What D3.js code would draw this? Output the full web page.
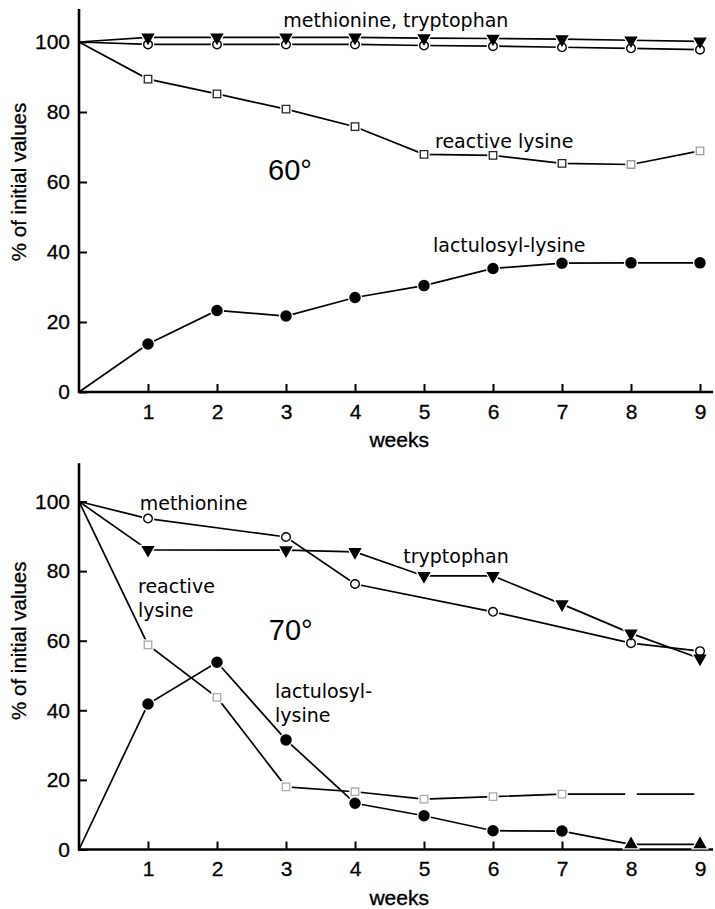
<!DOCTYPE html>
<html>
<head>
<meta charset="utf-8">
<script src="https://cdn.jsdelivr.net/npm/d3@7"></script>
<style>
  body { margin: 0; background: #fff; }
  text { fill: #000; }
</style>
</head>
<body>
<div id="chart"></div>
<script>
// weeks on the x axis, tick labels
var weeks = [0, 1, 2, 3, 4, 5, 6, 7, 8, 9];
var xTicks = [1, 2, 3, 4, 5, 6, 7, 8, 9];
var yTicks = [0, 20, 40, 60, 80, 100];

// 60 degrees
var topTrp = [100, 101.3, 101.3, 101.3, 101.3, 101.1, 101.0, 100.8, 100.5, 100.2];
var topMet = [100, 99.3, 99.3, 99.3, 99.3, 99.0, 98.8, 98.5, 98.2, 97.8];
var topLys = [100, 89.4, 85.2, 80.8, 75.8, 67.9, 67.6, 65.3, 65.0, 68.9];
var topLact = [0, 13.7, 23.3, 21.7, 27.0, 30.4, 35.3, 36.8, 36.9, 36.9];

// 70 degrees
var botMetWeeks = [0, 1, 3, 4, 6, 8, 9];
var botMet = [100, 95.1, 89.8, 76.3, 68.3, 59.3, 57.0];
var botTrpWeeks = [0, 1, 3, 4, 5, 6, 7, 8, 9];
var botTrp = [100, 86.1, 86.0, 85.5, 78.6, 78.6, 70.5, 62.1, 54.9];
var botLys = [100, 58.8, 43.7, 18.0, 16.6, 14.5, 15.2, 15.9, 15.9, 15.9];
var botLact = [0, 41.8, 53.8, 31.5, 13.3, 9.7, 5.4, 5.3, 1.5, 1.5];
var botLactShape = ['none', 'dot', 'dot', 'dot', 'dot', 'dot', 'dot', 'dot', 'triUp', 'triUp'];

var W = 715, H = 909;
var svg = d3.select('#chart').append('svg')
  .attr('width', W).attr('height', H)
  .style('font-family', 'Liberation Sans, Arial, sans-serif');

var x = d3.scaleLinear().domain([0, 9]).range([79, 700]);

function zip(ws, vs, shapes, def) {
  return ws.map(function(w, i) {
    return {w: w, v: vs[i], shape: shapes ? shapes[i] : (w === 0 ? 'none' : def)};
  });
}

function symbolPath(shape) {
  if (shape === 'dot') return d3.symbol(d3.symbolCircle, 80)();
  if (shape === 'ring') return d3.symbol(d3.symbolCircle, 58)();
  if (shape === 'triDown' || shape === 'triUp') return d3.symbol(d3.symbolTriangle, 52)();
  if (shape === 'square') return d3.symbol(d3.symbolSquare, 56)();
  return null;
}

function panel(cfg) {
  var y = d3.scaleLinear().domain([0, 100]).range([cfg.y0, cfg.y100]);
  var g = svg.append('g');

  // axes
  var yAxis = d3.axisLeft(y).tickValues(yTicks).tickSizeInner(-8).tickSizeOuter(0).tickPadding(9);
  var xAxis = d3.axisBottom(x).tickValues(xTicks).tickSizeInner(-8).tickSizeOuter(0).tickPadding(12);

  var gy = g.append('g').attr('transform', 'translate(' + x(0) + ',0)').call(yAxis);
  var gx = g.append('g').attr('transform', 'translate(0,' + y(0) + ')').call(xAxis);
  [gy, gx].forEach(function(a) {
    a.select('.domain').remove();
    a.selectAll('line').attr('stroke', '#000').attr('stroke-width', 2);
    a.selectAll('text').attr('font-size', 21).attr('fill', '#000')
      .attr('stroke', '#000').attr('stroke-width', 0.3);
  });
  g.append('line')
    .attr('x1', x(0)).attr('x2', x(0))
    .attr('y1', y(0) + 1).attr('y2', y(cfg.yTop))
    .attr('stroke', '#000').attr('stroke-width', 2.6);
  g.append('line')
    .attr('x1', x(0) - 1).attr('x2', x(9.19))
    .attr('y1', y(0)).attr('y2', y(0))
    .attr('stroke', '#000').attr('stroke-width', 2.6);

  g.append('text')
    .attr('transform', 'translate(18,' + y(60) + ') rotate(-90)')
    .attr('text-anchor', 'middle').attr('dominant-baseline', 'central')
    .attr('font-size', 20.5)
    .attr('stroke', '#000').attr('stroke-width', 0.3)
    .text('% of initial values');
  g.append('text')
    .attr('x', x(4.64)).attr('y', y(0) + 55)
    .attr('text-anchor', 'middle')
    .attr('font-size', 21)
    .attr('stroke', '#000').attr('stroke-width', 0.4)
    .text('weeks');

  var line = d3.line().x(function(d) { return x(d.w); }).y(function(d) { return y(d.v); });

  cfg.series.forEach(function(s) {
    g.append('path')
      .datum(s.pts)
      .attr('d', line)
      .attr('fill', 'none')
      .attr('stroke', '#000')
      .attr('stroke-width', 1.7);
  });

  function sqStroke(s, d) {
    if (s.fadeFrom !== undefined && d.w >= s.fadeFrom) return s.fadeColor;
    return s.sqColor;
  }

  // white halo behind markers, then markers
  cfg.series.forEach(function(s) {
    var pts = s.pts.filter(function(d) { return d.shape !== 'none'; });
    g.selectAll(null).data(pts).enter().append('path')
      .attr('d', function(d) { return symbolPath(d.shape); })
      .attr('transform', function(d) {
        return 'translate(' + x(d.w) + ',' + y(d.v) + ')' + (d.shape === 'triDown' ? ' rotate(180)' : '');
      })
      .attr('fill', '#fff').attr('stroke', '#fff').attr('stroke-width', 4);
  });
  cfg.series.forEach(function(s) {
    var pts = s.pts.filter(function(d) { return d.shape !== 'none'; });
    g.selectAll(null).data(pts).enter().append('path')
      .attr('d', function(d) { return symbolPath(d.shape); })
      .attr('transform', function(d) {
        return 'translate(' + x(d.w) + ',' + y(d.v) + ')' + (d.shape === 'triDown' ? ' rotate(180)' : '');
      })
      .attr('fill', function(d) { return (d.shape === 'ring' || d.shape === 'square') ? '#fff' : '#000'; })
      .attr('stroke', function(d) { return d.shape === 'square' ? sqStroke(s, d) : '#000'; })
      .attr('stroke-width', function(d) { return d.shape === 'square' ? 1.3 : 1.4; });
  });

  cfg.labels.forEach(function(l) {
    g.append('text')
      .attr('x', x(l.w)).attr('y', y(l.v))
      .attr('font-family', l.big ? 'Liberation Sans, Arial, sans-serif' : 'DejaVu Sans, sans-serif')
      .attr('font-size', l.big ? 29 : 19)
      .text(l.t);
  });
}

panel({
  y0: 392, y100: 42, yTop: 109.4,
  series: [
    {pts: zip(weeks, topLact, null, 'dot')},
    {pts: zip(weeks, topLys, null, 'square'), sqColor: '#222', fadeFrom: 8, fadeColor: '#999'},
    {pts: zip(weeks, topMet, null, 'ring')},
    {pts: zip(weeks, topTrp, null, 'triDown')}
  ],
  labels: [
    {t: 'methionine, tryptophan', w: 2.96, v: 104.4},
    {t: 'reactive lysine', w: 5.16, v: 69.7},
    {t: '60°', w: 2.74, v: 60.6, big: true},
    {t: 'lactulosyl-lysine', w: 5.13, v: 40.1}
  ]
});

panel({
  y0: 849.5, y100: 501.5, yTop: 111,
  series: [
    {pts: zip(weeks, botLact, botLactShape)},
    {pts: zip(weeks, botLys, null, 'square'), sqColor: '#aaa', fadeFrom: 8, fadeColor: '#fff'},
    {pts: zip(botMetWeeks, botMet, null, 'ring')},
    {pts: zip(botTrpWeeks, botTrp, null, 'triDown')}
  ],
  labels: [
    {t: 'methionine', w: 0.88, v: 97.6},
    {t: 'tryptophan', w: 4.7, v: 82.3},
    {t: 'reactive', w: 0.855, v: 73.8},
    {t: 'lysine', w: 0.855, v: 66.9},
    {t: '70°', w: 2.75, v: 60.2, big: true},
    {t: 'lactulosyl-', w: 2.84, v: 43.4},
    {t: 'lysine', w: 2.84, v: 36.7}
  ]
});
</script>
</body>
</html>
